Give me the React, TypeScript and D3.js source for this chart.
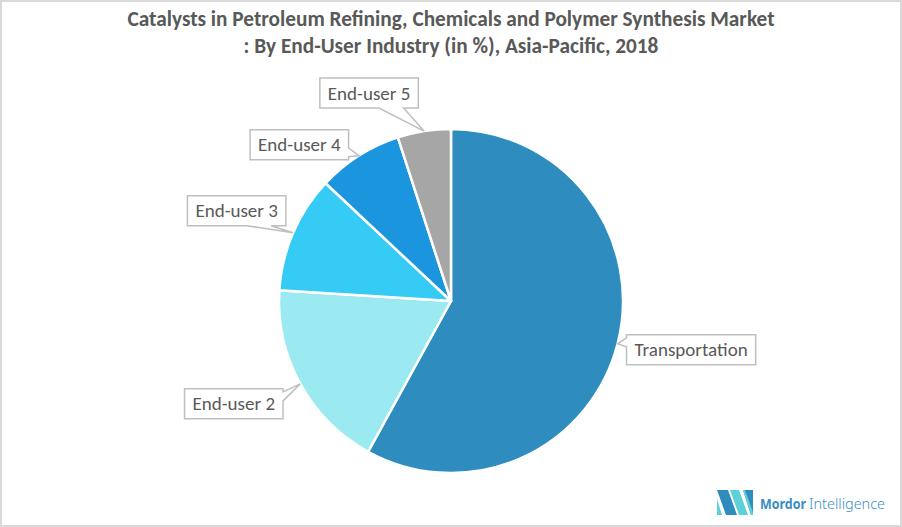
import React from "react";
import * as d3 from "d3";

const categories = ["Transportation", "End-user 2", "End-user 3", "End-user 4", "End-user 5"];
const shares = [58, 18, 11, 8, 5];
const colors = ["#2E8CBF", "#9BEAF1", "#35CBF5", "#1C95DF", "#A6A6A6"];
const titleLines = [
  "Catalysts in Petroleum Refining, Chemicals and Polymer Synthesis Market",
  ": By End-User Industry (in %), Asia-Pacific, 2018",
];

// label callout layout: offset of box centre from tip, and wedge side
const calloutLayout = [
  { dx: 73.5, dy: 6, side: "left" },
  { dx: -66.5, dy: 20, side: "right" },
  { dx: -56.5, dy: -22, side: "bottom" },
  { dx: -59.5, dy: -11, side: "right" },
  { dx: -55, dy: -38, side: "bottom" },
];

const W = 902;
const H = 527;
const CX = 451;
const CY = 301;
const R = 172;
const FONT = "Carlito, 'Liberation Sans Narrow', 'Noto Sans', sans-serif";

function measure(text: string, size: number, weight = "normal") {
  const c = document.createElement("canvas").getContext("2d")!;
  c.font = `${weight} ${size}px ${FONT}`;
  return c.measureText(text).width;
}

function calloutPath(cx: number, cy: number, w: number, h: number, tx: number, ty: number, side: string) {
  const x0 = cx - w / 2, x1 = cx + w / 2, y0 = cy - h / 2, y1 = cy + h / 2;
  if (side === "bottom") {
    const s = tx >= cx ? 1 : -1;
    const a = cx + s * w * 0.1, b = cx + s * w * 0.35;
    const [p, q] = s > 0 ? [a, b] : [b, a];
    return `M${x0},${y0}H${x1}V${y1}H${q}L${tx},${ty}L${p},${y1}H${x0}Z`;
  }
  if (side === "top") {
    const s = tx >= cx ? 1 : -1;
    const a = cx + s * w * 0.1, b = cx + s * w * 0.35;
    const [p, q] = s > 0 ? [a, b] : [b, a];
    return `M${x0},${y0}H${p}L${tx},${ty}L${q},${y0}H${x1}V${y1}H${x0}Z`;
  }
  if (side === "right") {
    const s = ty >= cy ? 1 : -1;
    const a = cy + s * h * 0.1, b = cy + s * h * 0.4;
    const [p, q] = s > 0 ? [a, b] : [b, a];
    return `M${x0},${y0}H${x1}V${p}L${tx},${ty}L${x1},${q}V${y1}H${x0}Z`;
  }
  const s = ty >= cy ? 1 : -1;
  const a = cy + s * h * 0.1, b = cy + s * h * 0.4;
  const [p, q] = s > 0 ? [a, b] : [b, a];
  return `M${x0},${y0}H${x1}V${y1}H${x0}V${q}L${tx},${ty}L${x0},${p}Z`;
}

export default function App() {
  const pie = d3.pie<number>().sort(null).value((d) => d);
  const arcs = pie(shares);
  const arc = d3.arc<d3.PieArcDatum<number>>().innerRadius(0).outerRadius(R);
  const labelSize = 19;

  return (
    <div style={{ position: "fixed", left: 0, top: 0, width: W, height: H }}>
      <svg width={W} height={H} style={{ display: "block", background: "#fff" }}>
        <rect x={1} y={1} width={W - 2} height={H - 2} fill="#fff" stroke="#D9D9D9" strokeWidth={2} />
        {titleLines.map((t, i) => (
          <text key={i} x={451} y={26 + i * 27} textAnchor="middle" fontFamily={FONT} fontWeight="bold" fontSize={21.3} fill="#595959">
            {t}
          </text>
        ))}
        <g transform={`translate(${CX},${CY})`}>
          {arcs.map((a, i) => (
            <path key={i} d={arc(a)!} fill={colors[i]} stroke="#fff" strokeWidth={2.5} strokeLinejoin="round" />
          ))}
        </g>
        {arcs.map((a, i) => {
          const mid = (a.startAngle + a.endAngle) / 2;
          const tx = CX + Math.sin(mid) * R;
          const ty = CY - Math.cos(mid) * R;
          const L = calloutLayout[i];
          const bx = tx + L.dx, by = ty + L.dy;
          const w = measure(categories[i], labelSize) + 16;
          const h = 30;
          return (
            <g key={i}>
              <path d={calloutPath(bx, by, w, h, tx, ty, L.side)} fill="#fff" stroke="#BFBFBF" strokeWidth={1.5} />
              <text x={bx} y={by + 6.5} textAnchor="middle" fontFamily={FONT} fontSize={labelSize} fill="#595959">
                {categories[i]}
              </text>
            </g>
          );
        })}
        <g>
          <polygon points="717,490 728,490 737,515 726,515" fill="#2E8CBF" />
          <polygon points="717,499 717,515 722,515" fill="#5FCFD8" />
          <polygon points="730,490 739,490 748,515 739,515" fill="#5FCFD8" />
          <polygon points="743,490 753,490 753,515 751,515" fill="#2E8CBF" />
          <polygon points="743,490 745,490 753,512 753,515 751,515" fill="#5FCFD8" />
          <text x={760} y={509} fontFamily="'Noto Sans', sans-serif" fontWeight="bold" fontSize={14} fill="#3A8DC6" textLength={46} lengthAdjust="spacingAndGlyphs">Mordor</text>
          <text x={809} y={509} fontFamily="'Noto Sans', sans-serif" fontWeight={300} fontSize={14} fill="#3A8DC6" textLength={76} lengthAdjust="spacingAndGlyphs">Intelligence</text>
        </g>
      </svg>
    </div>
  );
}
